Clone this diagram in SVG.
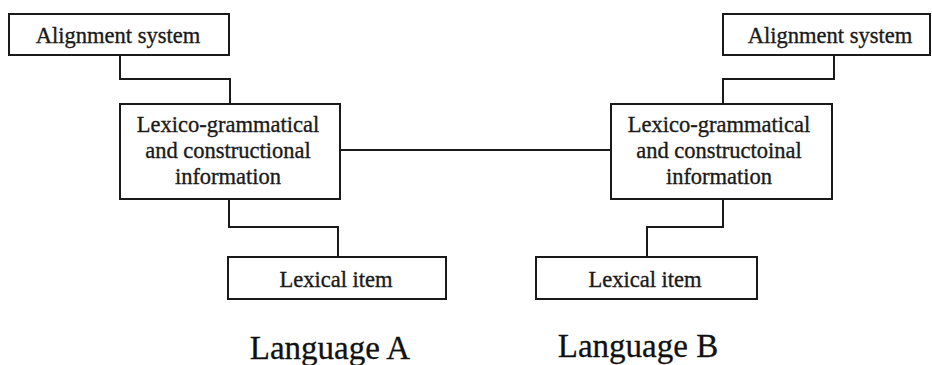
<svg xmlns="http://www.w3.org/2000/svg" width="932" height="365" viewBox="0 0 932 365">
  <style>
    .box { fill: #ffffff; stroke: #1a1a1a; stroke-width: 2; }
    .wire { fill: none; stroke: #1a1a1a; stroke-width: 2; }
    .label { font-family: "Liberation Serif", "Times New Roman", serif; font-size: 22.5px; fill: #1a1a1a; stroke: #1a1a1a; stroke-width: 0.35; text-anchor: middle; }
    .caption { font-family: "Liberation Serif", "Times New Roman", serif; font-size: 33px; fill: #111111; stroke: #111111; stroke-width: 0.3; text-anchor: middle; }
  </style>
  <rect width="932" height="365" fill="#ffffff"/>

  <!-- connectors -->
  <g id="connectors">
    <polyline class="wire" points="120,55 120,79 230,79 230,104"/>
    <polyline class="wire" points="229,199 229,227 338,227 338,257"/>
    <line class="wire" x1="340" y1="150" x2="611" y2="150"/>
    <polyline class="wire" points="834,55 834,79 723,79 723,104"/>
    <polyline class="wire" points="723,199 723,227 647,227 647,257"/>
  </g>

  <!-- Language A side -->
  <g id="align-a">
    <rect class="box" x="9" y="14" width="220" height="41"/>
    <text class="label" x="118" y="43">Alignment system</text>
  </g>
  <g id="lexgram-a">
    <rect class="box" x="120" y="104" width="220" height="95"/>
    <text class="label" x="228" y="132">Lexico-grammatical</text>
    <text class="label" x="228" y="158">and constructional</text>
    <text class="label" x="228" y="184">information</text>
  </g>
  <g id="lexical-a">
    <rect class="box" x="228" y="257" width="218" height="42"/>
    <text class="label" x="336" y="287">Lexical item</text>
  </g>

  <!-- Language B side -->
  <g id="align-b">
    <rect class="box" x="723" y="14" width="207" height="41"/>
    <text class="label" x="830" y="43">Alignment system</text>
  </g>
  <g id="lexgram-b">
    <rect class="box" x="611" y="104" width="221" height="95"/>
    <text class="label" x="719" y="132">Lexico-grammatical</text>
    <text class="label" x="719" y="158">and constructoinal</text>
    <text class="label" x="719" y="184">information</text>
  </g>
  <g id="lexical-b">
    <rect class="box" x="536" y="257" width="221" height="42"/>
    <text class="label" x="645" y="287">Lexical item</text>
  </g>

  <!-- captions -->
  <g id="captions">
    <text class="caption" x="330" y="359">Language A</text>
    <text class="caption" x="638" y="357">Language B</text>
  </g>
</svg>
